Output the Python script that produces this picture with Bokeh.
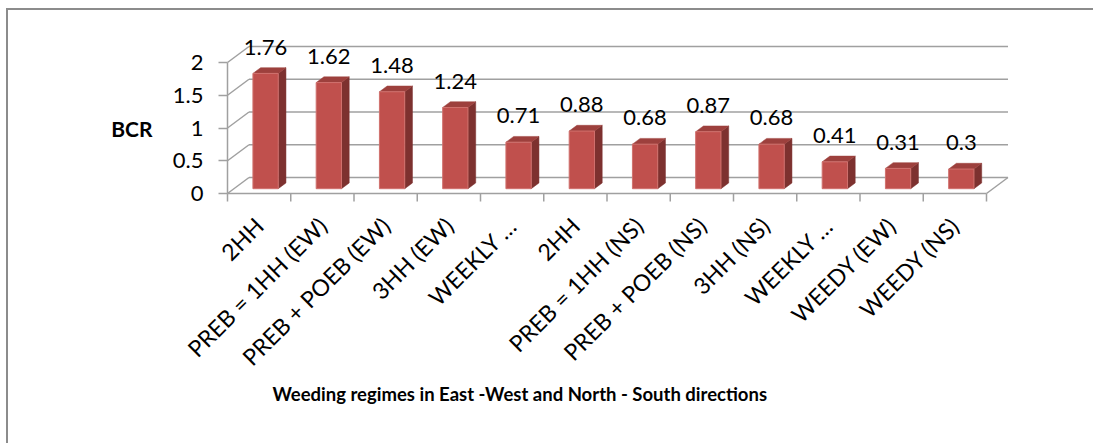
import numpy as np
from math import pi
from bokeh.plotting import figure
from bokeh.models import Range1d, FixedTicker, Title
from bokeh.core.properties import value
from bokeh.embed import file_html
from bokeh.resources import INLINE

# ---------------- data ----------------
categories = ["2HH", "PREB = 1HH (EW)", "PREB + POEB (EW)", "3HH (EW)", "WEEKLY \u2026",
              "2HH", "PREB = 1HH (NS)", "PREB + POEB (NS)", "3HH (NS)", "WEEKLY \u2026",
              "WEEDY (EW)", "WEEDY (NS)"]
bcr = [1.76, 1.62, 1.48, 1.24, 0.71, 0.88, 0.68, 0.87, 0.68, 0.41, 0.31, 0.30]
bcr_labels = ["1.76", "1.62", "1.48", "1.24", "0.71", "0.88", "0.68", "0.87",
              "0.68", "0.41", "0.31", "0.3"]
y_ticks = [0, 0.5, 1, 1.5, 2]
y_tick_labels = ["0", "0.5", "1", "1.5", "2"]
y_title = "BCR"
x_title = "Weeding regimes in East -West and North - South directions"

# ---------------- geometry / style ----------------
FONT = "Lato"
CAT_PX, VAL_PX = 63.25, 65.5          # pixels per category / per value unit
DX, DY = 21.5 / CAT_PX, 16.0 / VAL_PX  # oblique depth of the floor
F1, F2 = 0.30, 0.66                   # bar front / back depth fraction
HALF_W = 0.2                          # half bar width (category units)
LABEL_GAP = 20.5 / VAL_PX             # bar top -> label centre
TICK_LEN = 8 / VAL_PX
GRID = "#a0a0a0"
FRONT, TOP, SIDE = "#c0504d", "#9d403d", "#7d312f"

W, H = 1087, 435
AXIS_X, AXIS_Y = 219, 183              # canvas position of the (0, 0) corner
BELOW = 14                             # frame extends this far below value 0
ML, MT = 80, 18
MR = W - 1022
MB = H - (AXIS_Y + BELOW)
FW, FH = W - ML - MR, H - MT - MB
X0 = -(AXIS_X - ML) / CAT_PX
Y0 = -BELOW / VAL_PX

n = len(categories)
p = figure(width=W, height=H, output_backend="svg", toolbar_location=None,
           x_range=Range1d(X0, X0 + FW / CAT_PX), y_range=Range1d(Y0, Y0 + FH / VAL_PX),
           min_border_left=ML, min_border_right=MR,
           min_border_top=MT, min_border_bottom=MB)
p.styles = {"border-top": "2px solid #8c8c8c", "border-left": "2px solid #8c8c8c",
            "margin-left": "6px", "margin-top": "8px"}
p.grid.visible = False
p.outline_line_color = None
p.background_fill_color = "white"
p.border_fill_color = "white"

# ---------------- walls / floor ----------------
yt = np.array(y_ticks, dtype=float)
p.multi_line(xs=[[DX, n + DX] for _ in yt], ys=[[v + DY, v + DY] for v in yt],
             line_color=GRID, line_width=1.5)
p.multi_line(xs=[[0, DX] for _ in yt], ys=[[v, v + DY] for v in yt],
             line_color=GRID, line_width=1.5)
p.line(x=[n, n + DX], y=[0, DY], line_color=GRID, line_width=1.5)
# floor front edge (category axis line) with its boundary ticks
p.line(x=[0, n], y=[0, 0], line_color=GRID, line_width=1.5)
bounds_x = np.arange(n + 1)
p.segment(x0=bounds_x, y0=0, x1=bounds_x, y1=-TICK_LEN, line_color=GRID, line_width=1.5)

# ---------------- bars ----------------
c = np.arange(n) + 0.5
v = np.array(bcr)
l1, r1 = c - HALF_W + F1 * DX, c + HALF_W + F1 * DX
l2, r2 = c - HALF_W + F2 * DX, c + HALF_W + F2 * DX
b1, b2 = F1 * DY, F2 * DY

side_xs = [[r1[i], r2[i], r2[i], r1[i]] for i in range(n)]
side_ys = [[b1, b2, v[i] + b2, v[i] + b1] for i in range(n)]
top_xs = [[l1[i], r1[i], r2[i], l2[i]] for i in range(n)]
top_ys = [[v[i] + b1, v[i] + b1, v[i] + b2, v[i] + b2] for i in range(n)]

p.patches(xs=side_xs, ys=side_ys, fill_color=SIDE, line_color=SIDE, line_width=0.5)
p.patches(xs=top_xs, ys=top_ys, fill_color=TOP, line_color=TOP, line_width=0.5)
p.quad(left=l1, right=r1, bottom=b1, top=v + b1, fill_color=FRONT,
       line_color="#d0716e", line_width=1)

p.text(x=c + F1 * DX, y=v + b2 + LABEL_GAP, text=bcr_labels, text_font=value(FONT),
       text_font_size="22px", text_align="center", text_baseline="middle",
       text_color="black")

# value-axis title, level with the value 1
p.text(x=[-75 / CAT_PX], y=[1.0], text=[y_title], text_font=value(FONT),
       text_font_size="21px", text_font_style="bold", text_align="right",
       text_baseline="middle", text_color="black")

# ---------------- axes ----------------
ya = p.yaxis[0]
ya.fixed_location = 0
ya.ticker = FixedTicker(ticks=y_ticks)
ya.bounds = (0, max(y_ticks))
ya.major_label_overrides = {float(t): s for t, s in zip(y_ticks, y_tick_labels)}
ya.axis_line_color = GRID
ya.axis_line_width = 1.5
ya.major_tick_line_color = GRID
ya.major_tick_line_width = 1.5
ya.major_tick_out = 9
ya.major_tick_in = 0
ya.minor_tick_line_color = None
ya.major_label_standoff = 15
ya.major_label_text_font = FONT
ya.major_label_text_font_size = "22px"
ya.major_label_text_color = "black"

xa = p.xaxis[0]
xa.ticker = FixedTicker(ticks=list(c))
xa.bounds = (0, n)
xa.major_label_overrides = {float(ci): s for ci, s in zip(c, categories)}
xa.axis_line_color = None
xa.major_tick_out = 0
xa.major_tick_in = 0
xa.major_tick_line_color = None
xa.minor_tick_line_color = None
xa.major_label_orientation = pi / 4
xa.major_label_standoff = 14
xa.major_label_text_font = FONT
xa.major_label_text_font_size = "23px"
xa.major_label_text_color = "black"

t = Title(text=x_title, align="left", offset=272 - 8 - ML, standoff=-6,
          text_font=FONT, text_font_size="18.5px", text_font_style="bold",
          text_color="black")
p.add_layout(t, "below")

open("out.html", "w").write(file_html(p, INLINE))
